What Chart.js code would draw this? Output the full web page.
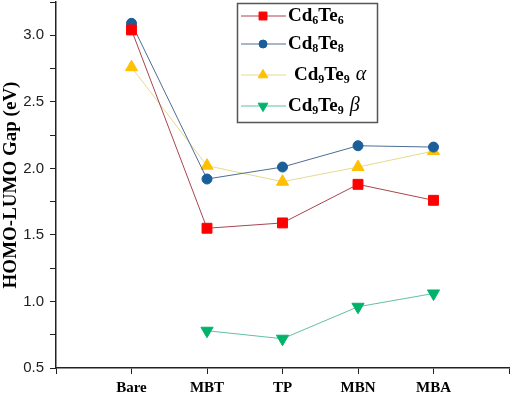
<!DOCTYPE html>
<html>
<head>
<meta charset="utf-8">
<script src="https://cdn.jsdelivr.net/npm/chart.js@4.4.1/dist/chart.umd.min.js"></script>
<style>
  html, body { margin: 0; padding: 0; background: #fff; }
  #wrap { width: 512px; height: 394px; }
</style>
</head>
<body>
<div id="wrap"><canvas id="gapChart"></canvas></div>
<script>
const categories = ['Bare', 'MBT', 'TP', 'MBN', 'MBA'];
const cd6te6 = [3.04, 1.55, 1.59, 1.88, 1.76];
const cd8te8 = [3.09, 1.92, 2.01, 2.17, 2.16];
const cd9te9a = [2.76, 2.02, 1.90, 2.01, 2.13];
const cd9te9b = [null, 0.78, 0.72, 0.96, 1.06];
const yTicks = [0.5, 1.0, 1.5, 2.0, 2.5, 3.0];

const series = [
    { base: 'Cd', n1: '6', el: 'Te', n2: '6', greek: '', values: cd6te6,
      line: '#a8454f', mark: '#ff0000', style: 'rect', radius: 7, rotation: 0 },
    { base: 'Cd', n1: '8', el: 'Te', n2: '8', greek: '', values: cd8te8,
      line: '#4d6d96', mark: '#1a5e9a', style: 'circle', radius: 5, rotation: 0 },
    { base: 'Cd', n1: '9', el: 'Te', n2: '9', greek: 'α', values: cd9te9a,
      line: '#e6da8e', mark: '#ffc000', style: 'triangle', radius: 7, rotation: 0 },
    { base: 'Cd', n1: '9', el: 'Te', n2: '9', greek: 'β', values: cd9te9b,
      line: '#62bfa9', mark: '#00b36b', style: 'triangle', radius: 7, rotation: 180 }
];

// legend drawn by hand so subscripts and italic greek letters look right
const legendPlugin = {
    id: 'subLegend',
    afterDraw(chart) {
        const ctx = chart.ctx;
        ctx.save();
        ctx.strokeStyle = '#555';
        ctx.lineWidth = 1.5;
        ctx.strokeRect(237.5, 3.5, 140, 119);
        const rows = [16, 44, 75, 106];
        const textX = [288, 288, 294, 288];
        series.forEach((s, i) => {
            const y = rows[i];
            ctx.strokeStyle = s.line;
            ctx.lineWidth = 1;
            ctx.beginPath();
            ctx.moveTo(241, y);
            ctx.lineTo(286, y);
            ctx.stroke();
            ctx.fillStyle = s.mark;
            ctx.strokeStyle = s.mark;
            Chart.helpers.drawPoint(ctx, {
                pointStyle: s.style, radius: s.radius * 0.8, rotation: s.rotation, borderWidth: 1
            }, 263, y);

            let x = textX[i];
            ctx.fillStyle = '#000';
            ctx.textBaseline = 'middle';
            ctx.textAlign = 'left';
            const big = 'bold 19px "Liberation Serif", "Times New Roman", serif';
            const small = 'bold 12px "Liberation Serif", "Times New Roman", serif';
            const put = (txt, font, dy) => {
                ctx.font = font;
                ctx.fillText(txt, x, y + dy);
                x += ctx.measureText(txt).width;
            };
            put(s.base, big, 0);
            put(s.n1, small, 5);
            put(s.el, big, 0);
            put(s.n2, small, 5);
            if (s.greek) {
                x += 6;
                put(s.greek, 'italic 20px "Liberation Serif", "Times New Roman", serif', 0);
            }
        });
        ctx.restore();
    }
};

function initializeChart() {
    const ctx = document.getElementById('gapChart').getContext('2d');
    new Chart(ctx, {
        type: 'line',
        data: {
            datasets: series.map(s => ({
                label: s.base + s.n1 + s.el + s.n2 + (s.greek ? ' ' + s.greek : ''),
                data: s.values.map((v, i) => ({ x: i, y: v })),
                borderColor: s.line,
                borderWidth: 1,
                backgroundColor: s.mark,
                pointBackgroundColor: s.mark,
                pointBorderColor: s.mark,
                pointStyle: s.style,
                pointRadius: s.radius,
                pointRotation: s.rotation,
                pointBorderWidth: 1,
                tension: 0,
                spanGaps: false
            }))
        },
        options: {
            responsive: true,
            maintainAspectRatio: false,
            animation: false,
            layout: { autoPadding: false, padding: { top: 2, right: 3, left: 0, bottom: 0 } },
            plugins: {
                legend: { display: false },
                tooltip: { enabled: false }
            },
            scales: {
                x: {
                    type: 'linear',
                    min: -1,
                    max: 5,
                    afterFit: scale => {
                        scale.height = 26;
                        scale.paddingLeft = 0;
                        scale.paddingRight = 0;
                    },
                    border: { display: true, color: '#222', width: 1.5 },
                    grid: { drawOnChartArea: false, drawTicks: true, tickLength: 6, color: '#222' },
                    ticks: {
                        stepSize: 1,
                        autoSkip: false,
                        maxRotation: 0,
                        padding: 5,
                        color: '#000',
                        font: { family: '"Liberation Serif", "Times New Roman", serif', size: 15, weight: 'bold' },
                        callback: v => categories[v] !== undefined ? categories[v] : ''
                    }
                },
                y: {
                    type: 'linear',
                    min: 0.5,
                    max: 3.25,
                    afterFit: scale => {
                        scale.width = 56;
                        scale.paddingTop = 0;
                        scale.paddingBottom = 0;
                    },
                    border: { display: true, color: '#222', width: 1.5 },
                    grid: { drawOnChartArea: false, drawTicks: true, tickLength: 6, color: '#222' },
                    ticks: {
                        stepSize: 0.25,
                        autoSkip: false,
                        padding: 6,
                        color: '#222',
                        font: { family: '"Liberation Sans", Arial, sans-serif', size: 15 },
                        callback: v => yTicks.some(t => Math.abs(t - v) < 1e-6) ? v.toFixed(1) : ''
                    },
                    title: {
                        display: true,
                        text: 'HOMO-LUMO Gap (eV)',
                        color: '#000',
                        padding: { top: 0, bottom: 0 },
                        font: { family: '"Liberation Serif", "Times New Roman", serif', size: 19, weight: 'bold' }
                    }
                }
            }
        },
        plugins: [legendPlugin]
    });
}

if (document.readyState === 'loading') {
    document.addEventListener('DOMContentLoaded', initializeChart);
} else {
    initializeChart();
}
</script>
</body>
</html>
